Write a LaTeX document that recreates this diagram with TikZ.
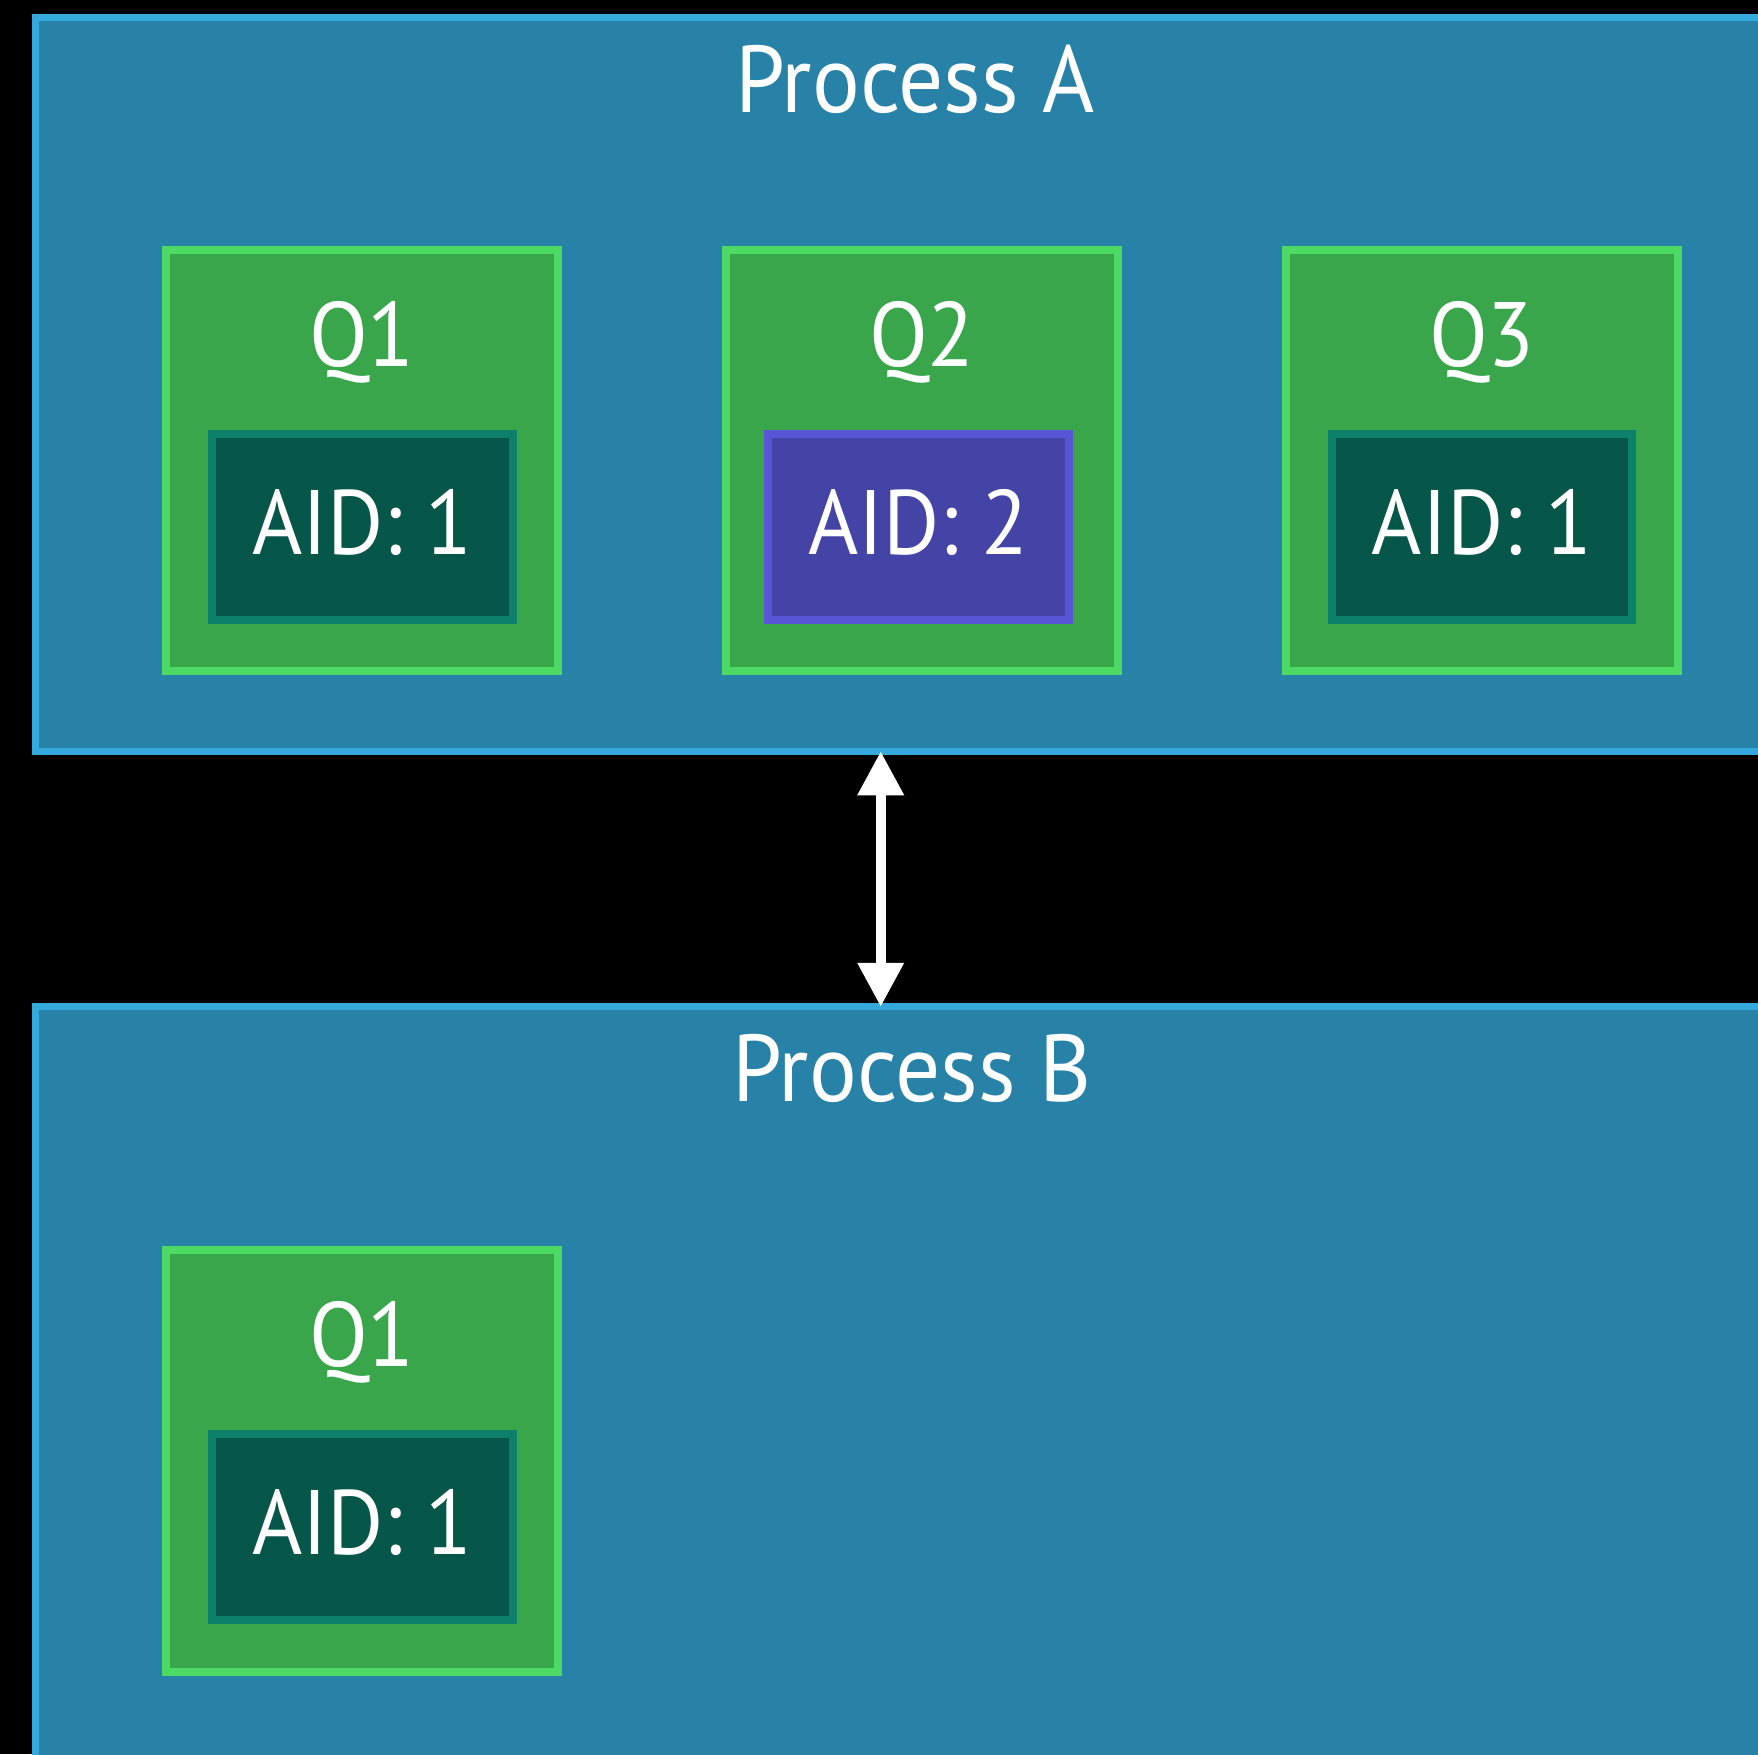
\documentclass[tikz,border=0pt]{standalone}
\usepackage{fontspec}
\setmainfont{PT Sans}[FakeStretch=0.94]
\usetikzlibrary{arrows.meta}
\definecolor{procfill}{HTML}{2882A8}
\definecolor{procline}{HTML}{35A9DC}
\definecolor{qfill}{HTML}{3AA64C}
\definecolor{qline}{HTML}{4CD964}
\definecolor{aidfill}{HTML}{07564A}
\definecolor{aidline}{HTML}{0C806A}
\definecolor{aidbfill}{HTML}{4443A6}
\definecolor{aidbline}{HTML}{5856D6}

\begin{document}
\begin{tikzpicture}[x=0.01cm,y=-0.01cm,
  procbox/.style={draw=procline, fill=procfill, line width=0.07cm, rectangle, inner sep=0pt, outer sep=0pt},
  qbox/.style={draw=qline, fill=qfill, line width=0.08cm, minimum width=3.91cm, minimum height=4.21cm, inner sep=0pt, outer sep=0pt},
  aidbox/.style={draw=aidline, fill=aidfill, line width=0.08cm, minimum width=3.0cm, minimum height=1.86cm, inner sep=0pt, outer sep=0pt},
  aidpbox/.style={aidbox, draw=aidbline, fill=aidbfill},
  title/.style={text=white, anchor=base, inner sep=0pt, font=\fontsize{27}{32}\selectfont},
  qlabel/.style={text=white, anchor=base, inner sep=0pt, font=\fontsize{26}{31}\selectfont},
  link/.style={draw=white, line width=0.1cm, {Triangle[length=0.44cm,width=0.44cm]}-{Triangle[length=0.44cm,width=0.44cm]}}
]
\useasboundingbox (0,0) rectangle (1758,1754);
\fill[black] (0,0) rectangle (1758,1754);
\clip (0,0) rectangle (1758,1754);

% process containers
\node[procbox, minimum width=17.575cm, minimum height=7.335cm] (pa) at (915.25, 384.25) {};
\node[procbox, minimum width=17.575cm, minimum height=7.83cm] (pb) at (915.25, 1398.5) {};
\node[title] (pat) at (915, 112) {Process A};
\node[title] (pbt) at (912, 1101) {Process B};

% queues in process A
\node[qbox] (qa1) at (362, 460.5) {};
\node[qbox] (qa2) at (922, 460.5) {};
\node[qbox] (qa3) at (1482, 460.5) {};
\node[qlabel] (qa1t) at (qa1.center |- 0,366.6) {Q1};
\node[qlabel] (qa2t) at (qa2.center |- 0,366.6) {Q2};
\node[qlabel] (qa3t) at (qa3.center |- 0,366.6) {Q3};

\node[aidbox]  (aa1) at (362.5, 527) {};
\node[aidpbox] (aa2) at (918.5, 527) {};
\node[aidbox]  (aa3) at (1482, 527) {};
\node[qlabel] (aa1t) at (aa1.center |- 0,554) {AID: 1};
\node[qlabel] (aa2t) at (aa2.center |- 0,554) {AID: 2};
\node[qlabel] (aa3t) at (aa3.center |- 0,554) {AID: 1};

% queue in process B
\node[qbox] (qb1) at (362, 1461) {};
\node[qlabel] (qb1t) at (qb1.center |- 0,1366.6) {Q1};
\node[aidbox] (ab1) at (362.5, 1527) {};
\node[qlabel] (ab1t) at (ab1.center |- 0,1554) {AID: 1};

% link between the two processes
\coordinate (lx) at (880.7, 880);
\draw[link] (pa.south -| lx) -- (pb.north -| lx);
\end{tikzpicture}
\end{document}
